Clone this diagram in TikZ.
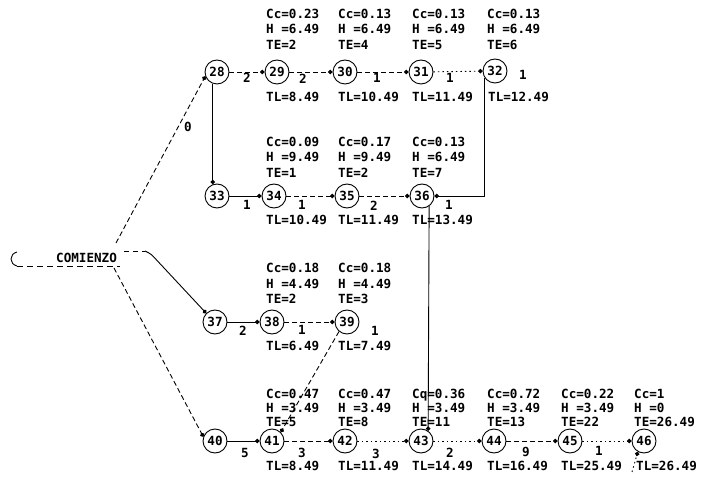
\documentclass[tikz,border=0pt]{standalone}
\usepackage{fontspec}
\setmonofont{DejaVu Sans Mono}
\usetikzlibrary{arrows.meta}

% event data block: id, x, y of first line, line step, Cc, H, TE
\newcommand\evinfo[7]{%
  \node[info] (c#1) at (#2,#3) {#5};
  \node[info] (h#1) at (#2,#3+#4) {H =#6};
  \node[info] (e#1) at (#2,#3+2*#4) {TE=#7};}

\begin{document}
\begin{tikzpicture}[x=1pt,y=-1pt,
  every node/.style={font=\ttfamily\bfseries\fontsize{12.6}{14}\selectfont, inner sep=0pt},
  evt/.style={draw, circle, line width=0.9pt, minimum size=24pt},
  info/.style={anchor=west, text height=9pt, text depth=0pt},
  dur/.style={text height=9pt, text depth=0pt},
  actsolid/.style={line width=0.9pt, -{Circle[length=4.4pt]}},
  actdash/.style={actsolid, dash pattern=on 5pt off 3pt},
  actdot/.style={actsolid, dash pattern=on 1.5pt off 3pt},
  plainline/.style={line width=0.9pt},
]
\fill[white] (0,0) rectangle (701,478);
\useasboundingbox (0,0) rectangle (701,478);

% ---- events ----
\node[evt] (n28) at (217,72) {28};
\node[evt] (n29) at (277,72) {29};
\node[evt] (n30) at (345,72) {30};
\node[evt] (n31) at (421,72) {31};
\node[evt] (n32) at (495,71) {32};

\node[evt] (n33) at (217,196) {33};
\node[evt] (n34) at (274,196) {34};
\node[evt] (n35) at (347,196) {35};
\node[evt] (n36) at (422,196) {36};

\node[evt] (n37) at (215,322) {37};
\node[evt] (n38) at (272,322) {38};
\node[evt] (n39) at (347,322) {39};

\node[evt] (n40) at (215,441) {40};
\node[evt] (n41) at (272,441) {41};
\node[evt] (n42) at (345,441) {42};
\node[evt] (n43) at (421,441) {43};
\node[evt] (n44) at (494,441) {44};
\node[evt] (n45) at (570,441) {45};
\node[evt] (n46) at (644,441) {46};

% ---- event data ----
\evinfo{29}{266}{14}{15.5}{Cc=0.23}{6.49}{2}
\evinfo{30}{338}{14}{15.5}{Cc=0.13}{6.49}{4}
\evinfo{31}{412}{14}{15.5}{Cc=0.13}{6.49}{5}
\evinfo{32}{487}{14}{15.5}{Cc=0.13}{6.49}{6}
\node[info] (l29) at (266,97) {TL=8.49};
\node[info] (l30) at (338,97) {TL=10.49};
\node[info] (l31) at (412,97) {TL=11.49};
\node[info] (l32) at (488,97) {TL=12.49};

\evinfo{34}{266}{142}{15.5}{Cc=0.09}{9.49}{1}
\evinfo{35}{338}{142}{15.5}{Cc=0.17}{9.49}{2}
\evinfo{36}{412}{142}{15.5}{Cc=0.13}{6.49}{7}
\node[info] (l34) at (266,220) {TL=10.49};
\node[info] (l35) at (338,220) {TL=11.49};
\node[info] (l36) at (412,220) {TL=13.49};

\evinfo{38}{266}{268}{15.5}{Cc=0.18}{4.49}{2}
\evinfo{39}{338}{268}{15.5}{Cc=0.18}{4.49}{3}
\node[info] (l38) at (266,346) {TL=6.49};
\node[info] (l39) at (338,346) {TL=7.49};

\evinfo{41}{266}{394}{14}{Cc=0.47}{3.49}{5}
\evinfo{42}{338}{394}{14}{Cc=0.47}{3.49}{8}
\evinfo{43}{412}{394}{14}{Cq=0.36}{3.49}{11}
\evinfo{44}{487}{394}{14}{Cc=0.72}{3.49}{13}
\evinfo{45}{561}{394}{14}{Cc=0.22}{3.49}{22}
\evinfo{46}{634}{394}{14}{Cc=1}{0}{26.49}
\node[info] (l41) at (266,466) {TL=8.49};
\node[info] (l42) at (338,466) {TL=11.49};
\node[info] (l43) at (412,466) {TL=14.49};
\node[info] (l44) at (487,466) {TL=16.49};
\node[info] (l45) at (561,466) {TL=25.49};
\node[info] (l46) at (636,466) {TL=26.49};

% ---- start ----
\node[info] (com) at (56,258) {COMIENZO};
\draw[plainline] (17,252) .. controls (9,254) and (9,264) .. (17,266);
\draw[plainline, dash pattern=on 6pt off 4pt] (17,266) -- (120,266);
\coordinate (s28) at (116,243);
\coordinate (s40) at (114,268);
\coordinate (s37a) at (124,251);
\coordinate (s37b) at (145,251);

% ---- activities ----
\draw[actdash] (s28) -- (n28.200);
\draw[plainline, dash pattern=on 5pt off 4pt] (s37a) -- (s37b);
\draw[actsolid, rounded corners=3pt] (s37b) -- (151,254) -- (n37.135);
\draw[actdash] (s40) -- (n40.160);

\draw[actdash] (n28) -- (n29);
\draw[actdash] (n29) -- (n30);
\draw[actdash] (n30) -- (n31);
\draw[actdot] (n31) -- (n32);
\draw[actsolid] (n28.250) -- (n33.110);
\draw[actsolid] (n32.215) |- (n36);

\draw[actsolid] (n33) -- (n34);
\draw[actdash] (n34) -- (n35);
\draw[actdash] (n35) -- (n36);
\draw[actsolid] (n36.305) -- (n43.55);

\draw[actsolid] (n37) -- (n38);
\draw[actdash] (n38) -- (n39);
\draw[actdash] (n39.230) -- (n41.45);

\draw[actsolid] (n40) -- (n41);
\draw[actdash] (n41) -- (n42);
\draw[actdot] (n42) -- (n43);
\draw[actdot] (n43) -- (n44);
\draw[actdash] (n44) -- (n45);
\draw[actdot] (n45) -- (n46);
\coordinate (s46) at (632,472);
\draw[actdot] (s46) -- (n46.240);

% ---- durations ----
\node[dur] (d2829) at (247,78) {2};
\node[dur] (d2930) at (303,79) {2};
\node[dur] (d3031) at (377,78) {1};
\node[dur] (d3132) at (450,78) {1};
\node[dur] (d3236) at (523,75) {1};
\node[dur] (d2833) at (188,127) {0};

\node[dur] (d3334) at (247,205) {1};
\node[dur] (d3435) at (302,205) {1};
\node[dur] (d3536) at (374,206) {2};
\node[dur] (d3643) at (449,205) {1};

\node[dur] (d3738) at (243,331) {2};
\node[dur] (d3839) at (302,330) {1};
\node[dur] (d3941) at (375,331) {1};

\node[dur] (d4041) at (245,453) {5};
\node[dur] (d4142) at (302,453) {3};
\node[dur] (d4243) at (376,454) {3};
\node[dur] (d4344) at (450,453) {2};
\node[dur] (d4445) at (526,452) {9};
\node[dur] (d4546) at (599,451) {1};
\end{tikzpicture}
\end{document}
